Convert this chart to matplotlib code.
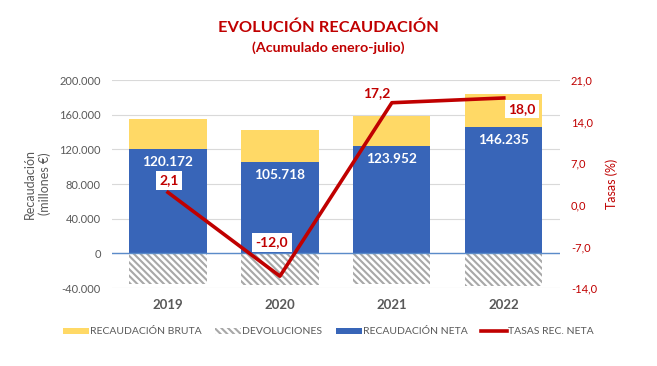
import numpy as np
import matplotlib as mpl
import matplotlib.pyplot as plt
from matplotlib.patches import Patch
from matplotlib.lines import Line2D

mpl.rcParams['font.family'] = ['Lato', 'DejaVu Sans']
mpl.rcParams['hatch.linewidth'] = 1.5

years = ['2019', '2020', '2021', '2022']
bruta = [155600, 142100, 158900, 183700]
neta = [120172, 105718, 123952, 146235]
devoluciones = [-35400, -36400, -35000, -37400]
tasas = [2.1, -12.0, 17.2, 18.0]
neta_labels = ['120.172', '105.718', '123.952', '146.235']
tasa_labels = ['2,1', '-12,0', '17,2', '18,0']

left_ticks = [-40000, 0, 40000, 80000, 120000, 160000, 200000]
left_tick_labels = ['-40.000', '0', '40.000', '80.000', '120.000', '160.000', '200.000']
right_ticks = [-14, -7, 0, 7, 14, 21]
right_tick_labels = ['-14,0', '-7,0', '0,0', '7,0', '14,0', '21,0']

yellow = '#FFD966'
blue = '#3865B8'
red = '#C00000'
gray = '#595959'
hatch = chr(92) * 5  # dense back-slash stripes

fig = plt.figure(figsize=(6.57, 3.66), dpi=100)
ax = fig.add_axes([0.1705, 0.213, 0.6815, 0.568])
x = np.arange(len(years))
w = 0.69

ax.bar(x, bruta, w, color=yellow, zorder=2)
ax.bar(x, neta, w, color=blue, zorder=3)
ax.bar(x, devoluciones, w, color='white', edgecolor='#A8A8A8', linewidth=0,
       hatch=hatch, zorder=2)

for i in range(len(years)):
    ax.annotate(neta_labels[i], (x[i], neta[i]), xytext=(0, -13),
                textcoords='offset pixels', ha='center', va='center',
                color='white', fontsize=9.8, fontweight='bold', zorder=5)

ax.set_xlim(-0.5, 3.5)
ax.set_ylim(-40000, 200000)
ax.set_yticks(left_ticks)
ax.set_yticklabels(left_tick_labels)
ax.set_xticks(x)
ax.set_xticklabels(years, fontweight='bold', fontsize=9.5, color=gray)
ax.tick_params(axis='both', length=0, labelsize=8, colors=gray)
ax.tick_params(axis='x', labelsize=9.5, pad=8)
ax.tick_params(axis='y', pad=8)
for s in ax.spines.values():
    s.set_visible(False)
ax.grid(axis='y', color='#D9D9D9', linewidth=0.8, zorder=0)
ax.set_axisbelow(True)
ax.axhline(0, color='#5B8BC9', linewidth=1, zorder=4)
ax.set_ylabel('Recaudación\n(millones €)', color=gray, fontsize=9, labelpad=6)

ax2 = ax.twinx()
ax2.plot(x, tasas, color=red, linewidth=2.6, zorder=6)
ax2.set_ylim(-14, 21)
ax2.set_yticks(right_ticks)
ax2.set_yticklabels(right_tick_labels)
ax2.tick_params(axis='y', length=0, labelsize=8, colors=red, pad=8)
for s in ax2.spines.values():
    s.set_visible(False)
ax2.set_ylabel('Tasas (%)', color=red, fontsize=9, labelpad=6)

offsets = [(1, 12), (-8, 34), (-15, 10), (18, -11)]
boxes = [True, True, False, True]
for i in range(len(years)):
    bbox = dict(boxstyle='square,pad=0.25', fc='white', ec='none') if boxes[i] else None
    ax2.annotate(tasa_labels[i], (x[i], tasas[i]), xytext=offsets[i],
                 textcoords='offset pixels', ha='center', va='center',
                 color=red, fontsize=10, fontweight='bold', bbox=bbox, zorder=7)

fig.text(0.5, 0.925, 'EVOLUCIÓN RECAUDACIÓN', ha='center', va='center',
         color=red, fontsize=11.8, fontweight='bold')
fig.text(0.5, 0.87, '(Acumulado enero-julio)', ha='center', va='center',
         color=red, fontsize=10.3, fontweight='bold')

handles = [Patch(facecolor=yellow, edgecolor='none'),
           Patch(facecolor='white', edgecolor='#A8A8A8', linewidth=0, hatch=hatch),
           Patch(facecolor=blue, edgecolor='none'),
           Line2D([0], [0], color=red, linewidth=2.6)]
labels = ['RECAUDACIÓN BRUTA', 'DEVOLUCIONES', 'RECAUDACIÓN NETA', 'TASAS REC. NETA']
leg = fig.legend(handles, labels, loc='center', bbox_to_anchor=(0.5, 0.093), ncol=4,
                 frameon=False, fontsize=7.5, handlelength=2.5, handleheight=0.45,
                 handletextpad=0.1, columnspacing=1.3)
for t in leg.get_texts():
    t.set_color(gray)

fig.savefig('out.png', dpi=100)
